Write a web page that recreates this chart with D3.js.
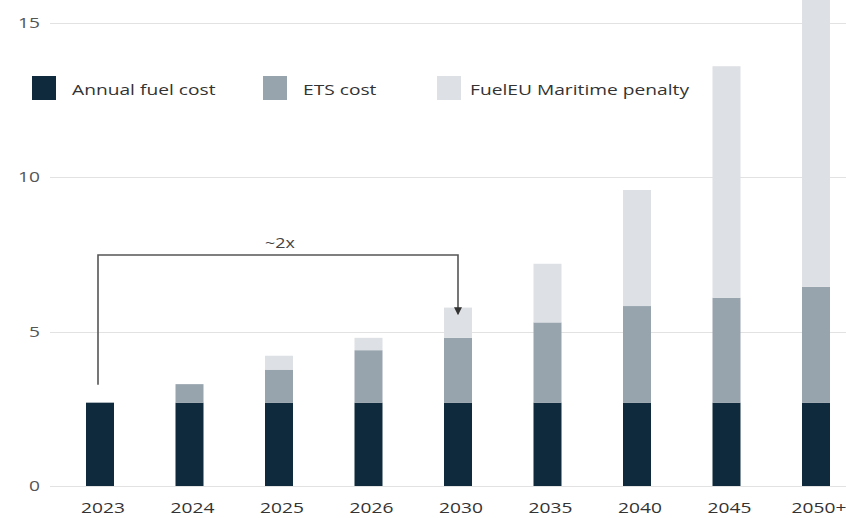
<!DOCTYPE html>
<html>
<head>
<meta charset="utf-8">
<script src="https://cdn.jsdelivr.net/npm/d3@7/dist/d3.min.js"></script>
<style>
  html, body { margin: 0; padding: 0; background: #fff; }
  svg { display: block; font-family: "Open Sans", "Noto Sans", sans-serif; }
</style>
</head>
<body>
<svg id="chart" width="846" height="518"></svg>
<script>
// Years on the x axis
const years = ["2023", "2024", "2025", "2026", "2030", "2035", "2040", "2045", "2050+"];
// Cost components per year (stacked bottom to top)
const fuelCost = [2.7, 2.7, 2.7, 2.7, 2.7, 2.7, 2.7, 2.7, 2.7];
const etsCost = [0, 0.6, 1.07, 1.7, 2.1, 2.6, 3.13, 3.4, 3.75];
const penalty = [0, 0, 0.45, 0.4, 0.98, 1.9, 3.76, 7.5, 9.8];
const seriesNames = ["Annual fuel cost", "ETS cost", "FuelEU Maritime penalty"];
const seriesKeys = ["fuel", "ets", "penalty"];
const seriesColors = ["#0f2a3d", "#97a4ae", "#dde0e4"];
const yTicks = [0, 5, 10, 15];

const rows = years.map((y, i) => ({ year: y, fuel: fuelCost[i], ets: etsCost[i], penalty: penalty[i] }));

const svg = d3.select("#chart");
const W = 846;
const stretch = 1.28;   // wide letterforms
const fontSize = 15;

// text helper: horizontally widened labels
function label(g, x, y, txt, anchor, fill, size) {
  return g.append("text")
    .attr("transform", `translate(${x},${y}) scale(${stretch},1)`)
    .attr("text-anchor", anchor || "start")
    .attr("font-size", size || fontSize)
    .attr("fill", fill || "#333")
    .text(txt);
}

const y = d3.scaleLinear().domain([0, 15]).range([486, 23]);
const x = d3.scalePoint().domain(years).range([100, 816]);
const barW = 28;

// gridlines
const grid = svg.append("g");
grid.selectAll("line").data(yTicks).join("line")
  .attr("x1", 50).attr("x2", W)
  .attr("y1", d => Math.round(y(d)) + 0.5).attr("y2", d => Math.round(y(d)) + 0.5)
  .attr("stroke", "#e2e2e2").attr("stroke-width", 1);

// y axis labels
const yg = svg.append("g");
yTicks.forEach(t => label(yg, 40, y(t) + 5, String(t), "end", "#555"));

// stacked bars
const stack = d3.stack().keys(seriesKeys)(rows);
svg.append("g").selectAll("g").data(stack).join("g")
  .attr("fill", (d, i) => seriesColors[i])
  .selectAll("rect").data(d => d).join("rect")
  .attr("x", d => x(d.data.year) - barW / 2)
  .attr("width", barW)
  .attr("y", d => y(d[1]))
  .attr("height", d => Math.max(0, y(d[0]) - y(d[1])));

// x axis labels
const xg = svg.append("g");
years.forEach(yr => label(xg, x(yr) + 3, 513, yr, "middle", "#333"));

// legend
const legendSwatchX = [32, 263, 437];
const legendTextX = [72, 303, 470];
const lg = svg.append("g");
seriesNames.forEach((name, i) => {
  lg.append("rect").attr("x", legendSwatchX[i]).attr("y", 76).attr("width", 24).attr("height", 24)
    .attr("fill", seriesColors[i]);
  label(lg, legendTextX[i], 95, name, "start", "#333");
});

// "~2x" bracket from 2023 total to 2030 total
const x0 = x("2023") - 2, x1 = x("2030");
const t0 = y(fuelCost[0] + etsCost[0] + penalty[0]) - 18;
const t1 = y(fuelCost[4] + etsCost[4] + penalty[4]) + 6;
const hy = 255;
svg.append("defs").append("marker")
  .attr("id", "arrow").attr("viewBox", "0 0 10 10").attr("refX", 8).attr("refY", 5)
  .attr("markerWidth", 5).attr("markerHeight", 5).attr("orient", "auto")
  .append("path").attr("d", "M0,0 L10,5 L0,10 z").attr("fill", "#333");
svg.append("path")
  .attr("d", `M${x0},${t0} V${hy} H${x1} V${t1}`)
  .attr("fill", "none").attr("stroke", "#555").attr("stroke-width", 1.6)
  .attr("marker-end", "url(#arrow)");
label(svg, (x0 + x1) / 2 + 2, hy - 7, "~2x", "middle", "#444", 14);
</script>
</body>
</html>
